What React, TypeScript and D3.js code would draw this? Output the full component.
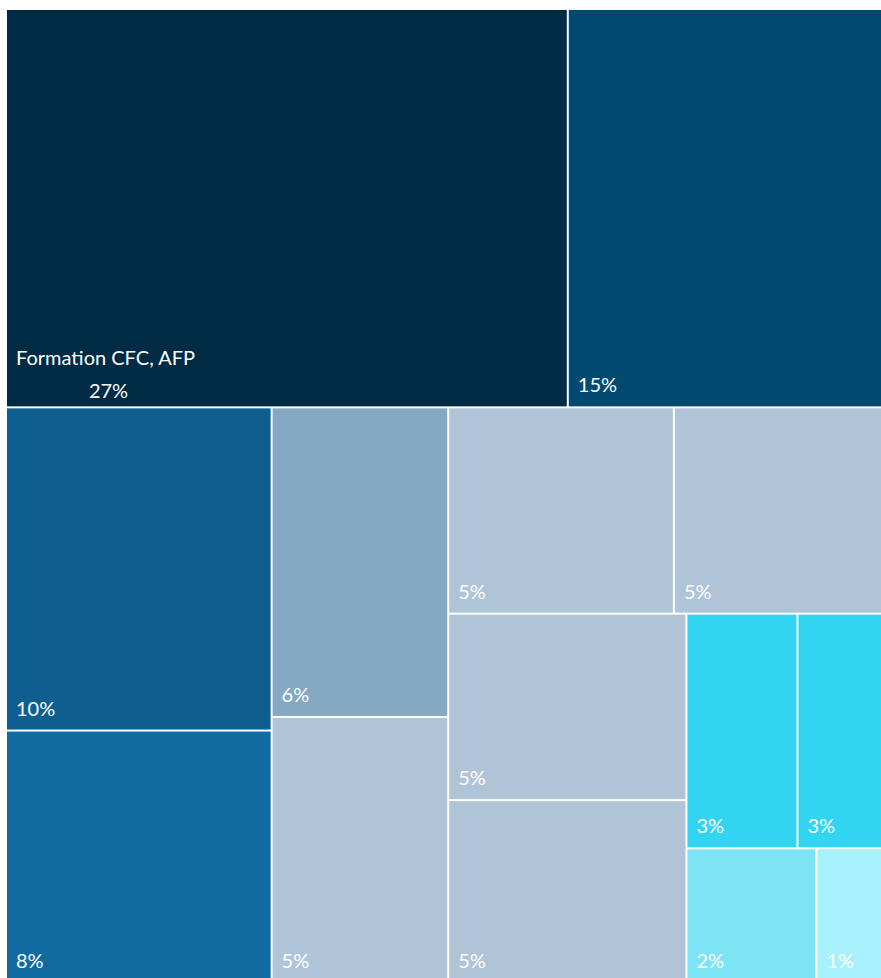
import React, { useEffect, useRef } from "react";
import * as d3 from "d3";

// Category names (only the largest tile shows its name)
const names = [
  "Formation CFC, AFP", "", "", "", "", "", "", "", "", "", "", "", "", "",
];
// Shares (value of each tile)
const values = [26.2, 14.7, 10.05, 7.85, 6.4, 5.5, 5.45, 5.05, 5.2, 5.1, 3.05, 2.35, 2.05, 1.05];
// Percentage labels as printed
const percentLabels = ["27%", "15%", "10%", "8%", "6%", "5%", "5%", "5%", "5%", "5%", "3%", "3%", "2%", "1%"];
// Strip (row/column) membership used by the tiling
const strips = [0, 0, 1, 1, 2, 2, 3, 3, 4, 4, 5, 5, 6, 7];
// Fill colours
const colors = [
  "#002b45", "#024a6f", "#0e5f8f", "#0f6ba0", "#85a9c3", "#afc4d7", "#afc4d7",
  "#afc4d7", "#afc4d7", "#afc4d7", "#31d5f1", "#31d5f1", "#7ce4f4", "#a6f1fc",
];

const W = 881;
const H = 978;

function stripTile(parent: any, x0: number, y0: number, x1: number, y1: number) {
  const nodes = parent.children;
  let value = parent.value;
  let i = 0;
  while (i < nodes.length) {
    const g = nodes[i].data.strip;
    let j = i;
    let sum = 0;
    while (j < nodes.length && nodes[j].data.strip === g) sum += nodes[j++].value;
    const row = { value: sum, children: nodes.slice(i, j) };
    const dx = x1 - x0;
    const dy = y1 - y0;
    if (dx < dy) d3.treemapDice(row as any, x0, y0, x1, value ? (y0 += (dy * sum) / value) : y1);
    else d3.treemapSlice(row as any, x0, y0, value ? (x0 += (dx * sum) / value) : x1, y1);
    value -= sum;
    i = j;
  }
}

export default function App() {
  const ref = useRef<SVGSVGElement>(null);

  useEffect(() => {
    const svg = d3.select(ref.current);
    svg.selectAll("*").remove();

    const data = values.map((v, i) => ({
      name: names[i],
      value: v,
      label: percentLabels[i],
      strip: strips[i],
      color: colors[i],
    }));

    const root = d3
      .hierarchy({ children: data } as any)
      .sum((d: any) => d.value || 0);

    d3.treemap()
      .tile(stripTile as any)
      .size([875, 972])
      .paddingInner(2)
      .round(false)(root as any);

    const leaves = root.leaves() as any[];
    const g = svg.append("g").attr("transform", "translate(7,10)");

    const cell = g
      .selectAll("g.cell")
      .data(leaves)
      .join("g")
      .attr("class", "cell");

    cell
      .append("rect")
      .attr("x", (d) => d.x0)
      .attr("y", (d) => d.y0)
      .attr("width", (d) => d.x1 - d.x0)
      .attr("height", (d) => d.y1 - d.y0)
      .attr("fill", (d) => d.data.color);

    const font = "Lato, 'Source Sans Pro', 'Noto Sans', sans-serif";
    const fs = "20px";

    cell.each(function (d: any) {
      const sel = d3.select(this);
      if (d.data.name) {
        const nameText = sel
          .append("text")
          .attr("x", d.x0 + 9)
          .attr("y", d.y1 - 41)
          .attr("fill", "#ffffff")
          .style("font-family", font)
          .style("font-size", fs)
          .text(d.data.name);
        const w = (nameText.node() as SVGTextElement).getComputedTextLength();
        sel
          .append("text")
          .attr("x", d.x0 + 9 + w / 2 + 3)
          .attr("y", d.y1 - 8)
          .attr("text-anchor", "middle")
          .attr("fill", "#ffffff")
          .style("font-family", font)
          .style("font-size", fs)
          .text(d.data.label);
      } else {
        sel
          .append("text")
          .attr("x", d.x0 + 9)
          .attr("y", d.y1 - 14)
          .attr("fill", "#ffffff")
          .style("font-family", font)
          .style("font-size", fs)
          .text(d.data.label);
      }
    });
  }, []);

  return (
    <svg
      ref={ref}
      width={W}
      height={H}
      style={{ position: "absolute", left: 0, top: 0, display: "block", background: "#ffffff" }}
    />
  );
}
